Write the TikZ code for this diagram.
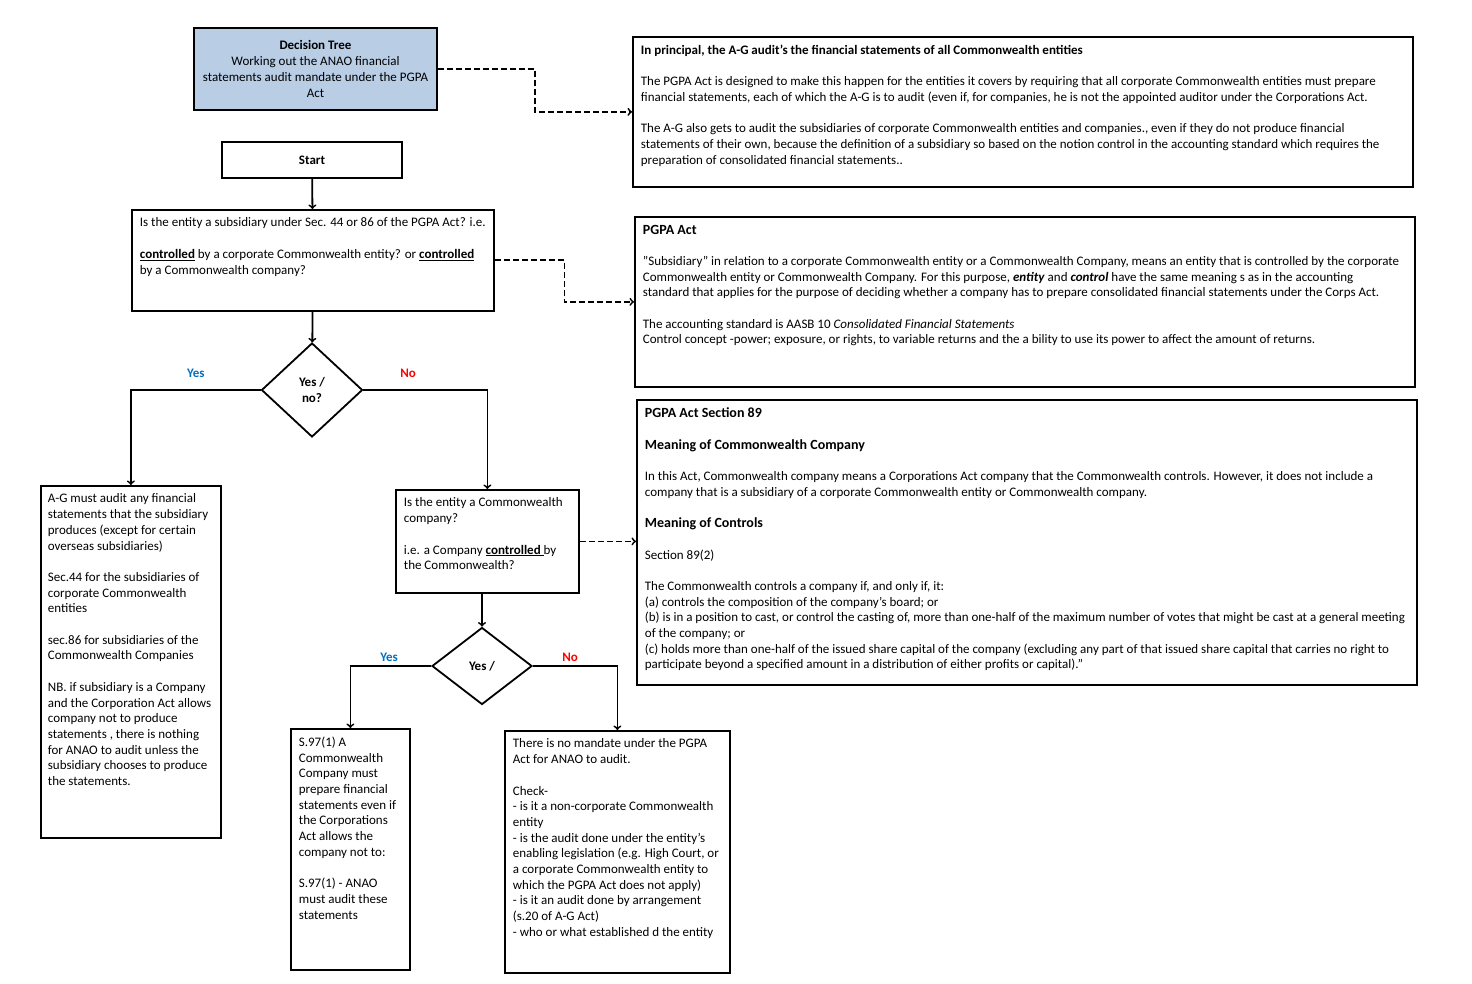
\documentclass[tikz,border=0pt]{standalone}
\usepackage{fontspec}
\setmainfont{Carlito}
\usepackage{xcolor}
\usepackage{tikz}
\usetikzlibrary{shapes.geometric,calc}

\definecolor{titleblue}{RGB}{185,205,229}
\definecolor{yesblue}{RGB}{0,112,192}
\definecolor{nored}{RGB}{255,0,0}

\newcommand{\bodyfont}{\fontsize{13}{15.7}\selectfont}
\newcommand{\headfont}{\fontsize{14}{16}\selectfont\bfseries}
\newcommand{\gapline}{\\[15.7pt]}
\newcommand{\boxtext}[3]{\parbox[t][#2][t]{#1}{\raggedright #3}}

\begin{document}
\begin{tikzpicture}[x=1pt, y=-1pt, font=\bodyfont,
		flowbox/.style={draw, line width=1.8pt, align=center},
		panel/.style={draw, line width=1.8pt, anchor=north west, inner xsep=8pt, inner ysep=8pt},
		choice/.style={diamond, draw, line width=1.8pt, inner sep=0pt, align=center, font=\bodyfont\bfseries},
		link/.style={->, line width=1.8pt},
		note/.style={link, dash pattern=on 6pt off 3pt},
		yeslabel/.style={text=yesblue, font=\bodyfont\bfseries},
		nolabel/.style={text=nored, font=\bodyfont\bfseries}]
		\useasboundingbox (0,0) rectangle (1472,984);

		% left column: the decision tree
		\node[flowbox, fill=titleblue, minimum width=243pt, minimum height=82pt] (title) at (315.5,69)
			{\textbf{Decision Tree}\\Working out the ANAO financial\\statements audit mandate under the PGPA\\Act};
		\node[flowbox, minimum width=180pt, minimum height=36pt] (start) at (312,160) {\textbf{Start}};

		\node[panel] (q1) at (131,209) {\boxtext{346pt}{85pt}{Is the entity a subsidiary under Sec. 44 or 86 of the PGPA Act? i.e.\gapline
			\underline{\textbf{controlled}} by a corporate Commonwealth entity? or \underline{\textbf{controlled}}\\
			by a Commonwealth company?}};

		\node[choice, minimum width=101pt, minimum height=94pt] (d1) at (312,390) {Yes /\\no?};

		\node[panel, inner xsep=7pt] (ag) at (40,485) {\boxtext{166pt}{336pt}{A-G must audit any financial\\statements that the subsidiary\\produces (except for certain\\overseas subsidiaries)\gapline
			Sec.44 for the subsidiaries of\\corporate Commonwealth\\entities\gapline
			sec.86 for subsidiaries of the\\Commonwealth Companies\gapline
			NB. if subsidiary is a Company\\and the Corporation Act allows\\company not to produce\\statements , there is nothing\\for ANAO to audit unless  the\\subsidiary chooses to produce\\the statements.}};

		\node[panel] (q2) at (395,489) {\boxtext{167pt}{87pt}{Is the entity a  Commonwealth\\company?\gapline
			i.e. a Company \underline{\textbf{controlled }}by\\the Commonwealth?}};

		\node[choice, minimum width=100pt, minimum height=77pt] (d2) at (482,666) {Yes /};

		\node[panel] (s97) at (290,728) {\boxtext{103pt}{225pt}{S.97(1) A\\Commonwealth\\Company must\\prepare financial\\statements even if\\the Corporations\\Act allows the\\company not to:\gapline
			S.97(1) - ANAO\\must audit these\\statements}};

		\node[panel] (nm) at (504,730) {\boxtext{209pt}{226pt}{There is no mandate under the PGPA\\Act for ANAO to audit.\gapline
			Check-\\- is it a non-corporate Commonwealth\\entity\\- is the audit done under the entity's\\enabling legislation (e.g. High Court, or\\a corporate Commonwealth entity to\\which the PGPA Act does not apply)\\- is it an audit done by arrangement\\(s.20 of A-G Act)\\- who or what established d the entity}};

		% right column: the notes
		\node[panel] (rb1) at (632,36) {\boxtext{764pt}{134pt}{{\fontsize{13}{15.7}\selectfont\bfseries In principal, the A-G audit's the financial statements of all Commonwealth  entities}\gapline
			The PGPA Act is designed to make this happen for the entities it covers by requiring that all corporate Commonwealth entities must prepare\\
			financial statements, each of which the A-G is to audit (even if, for companies, he is not the appointed auditor under the Corporations Act.\gapline
			The A-G also gets to audit the subsidiaries of  corporate Commonwealth entities and companies., even if they do not produce financial\\
			statements of their own, because the  definition of a subsidiary so based on the notion control in the accounting standard which requires the\\
			preparation of consolidated financial statements..}};

		\node[panel] (rb2) at (634,216) {\boxtext{764pt}{154pt}{{\headfont PGPA Act}\gapline
			"Subsidiary" in relation to a corporate Commonwealth  entity or a Commonwealth Company, means an entity that is controlled by the corporate\\
			Commonwealth  entity or Commonwealth Company. For this purpose, \textbf{\textit{entity}}  and \textbf{\textit{control}}  have  the same meaning s as in the accounting\\
			standard that applies for the purpose of deciding whether a company has to prepare consolidated financial statements under the Corps Act.\gapline
			The accounting standard is AASB 10 \textit{Consolidated Financial Statements}\\
			Control concept -power; exposure, or rights, to variable returns and  the a bility to use its power to affect the amount of  returns.}};

		\node[panel] (rb3) at (636,399) {\boxtext{764pt}{269pt}{{\fontsize{14}{16}\selectfont\bfseries PGPA Act Section 89}\gapline
			{\headfont Meaning of Commonwealth Company}\gapline
			In this Act, Commonwealth company means a Corporations Act company  that the Commonwealth controls. However, it does not include a\\
			company that is a subsidiary of a corporate Commonwealth entity or Commonwealth company.\gapline
			{\headfont Meaning of Controls}\gapline
			Section 89(2)\gapline
			The Commonwealth controls a company if, and only if, it:\\
			(a) controls the composition of the company's board; or\\
			(b) is in a position to cast, or control the casting of, more than one-half of the  maximum number of votes that might be cast at a general meeting\\
			of the company; or\\
			(c) holds more than one-half of the issued share capital of the company (excluding any part of that issued share capital that carries no right to\\
			participate beyond a specified amount in a distribution of either profits or capital)."}};

		% connectors
		\draw[link] (start) -- (q1);
		\draw[link] (q1) -- (d1);
		\draw[link] (d1.west) -| node[yeslabel, pos=.25, above=8pt] {Yes} (ag.north);
		\draw[link] (d1.east) -| node[nolabel, pos=.18, above=8pt] {No} (q2.north);
		\draw[link] (q2.south -| d2.north) -- (d2.north);
		\draw[link] (d2.west) -| node[yeslabel, pos=.26, above] {Yes} (s97.north);
		\draw[link] (d2.east) -| node[nolabel, pos=.22, above] {No} (nm.north);

		\draw[note] (title.east) -| ($(title.east)!.5!(rb1.west)$) |- (rb1.west);
		\draw[note] (q1.east) -| ($(q1.east)!.5!(rb2.west)$) |- (rb2.west);
		\draw[note] (q2.east) -- (q2.east -| rb3.west);
	\end{tikzpicture}
\end{document}
